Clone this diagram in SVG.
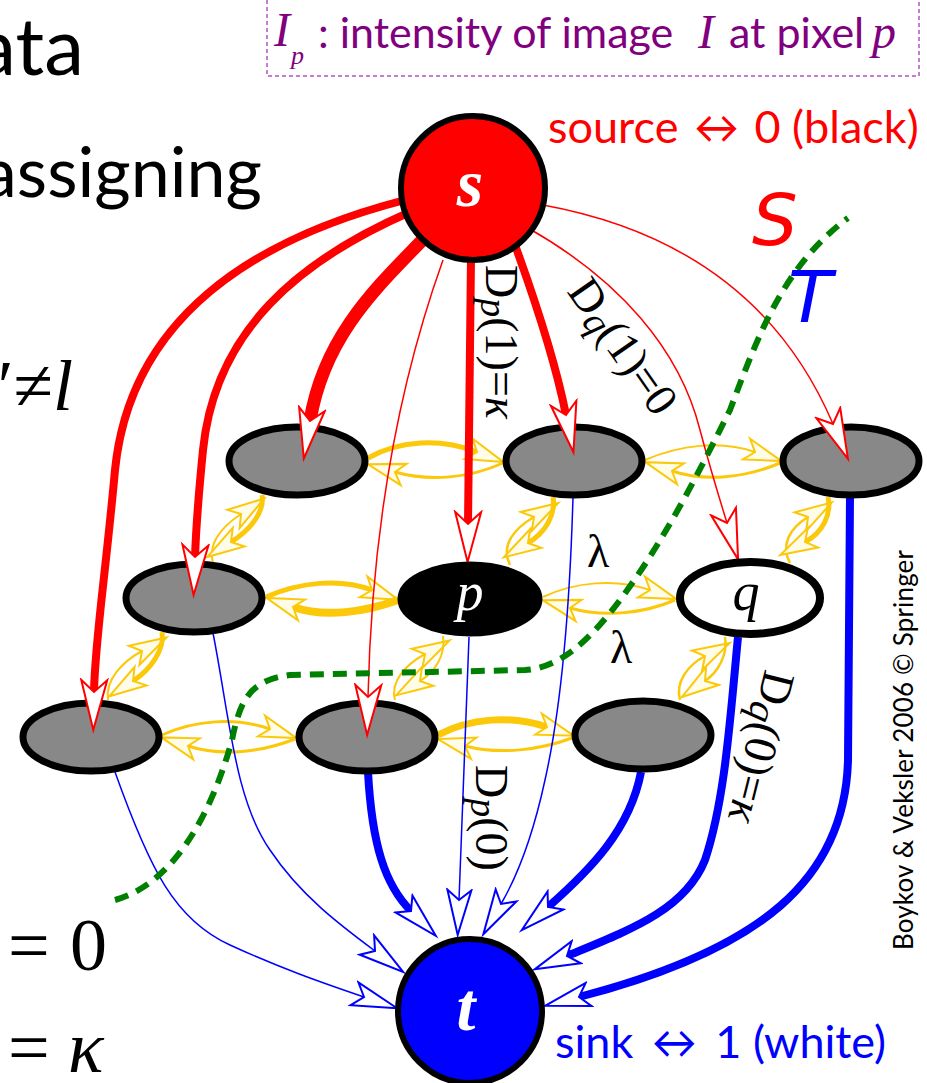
<svg xmlns="http://www.w3.org/2000/svg" width="927" height="1083" viewBox="0 0 927 1083">
<defs>
<style>
.sl{font-family:Lato,"Open Sans","Liberation Sans",sans-serif}
.mt{font-family:"Liberation Serif","Times New Roman",serif}
.gn{fill:#888;stroke:#000;stroke-width:7}
.yl{fill:none;stroke:#fcc80a;marker-end:url(#ay)}
.rd{fill:none;stroke:#f00;marker-end:url(#ar)}
.bl{fill:none;stroke:#00f;marker-end:url(#ab)}
.lb{font-family:"Liberation Serif","Times New Roman",serif;font-size:46px;fill:#000}
</style>
<marker id="ar" markerUnits="userSpaceOnUse" viewBox="-14 -16 56 32" markerWidth="56" markerHeight="32" refX="0" refY="0" orient="auto"><path d="M38,0 L-12,-13 L0,0 L-12,13 Z" fill="#fff" stroke="#f00" stroke-width="2"/></marker>
<marker id="ab" markerUnits="userSpaceOnUse" viewBox="-12 -15 52 30" markerWidth="52" markerHeight="30" refX="0" refY="0" orient="auto"><path d="M35,0 L-10,-12 L0,0 L-10,12 Z" fill="#fff" stroke="#00f" stroke-width="2"/></marker>
<marker id="ay" markerUnits="userSpaceOnUse" viewBox="-12 -13 44 26" markerWidth="44" markerHeight="26" refX="0" refY="0" orient="auto"><path d="M28,0 L-9,-11 L0,0 L-9,11 Z" fill="#fffce8" stroke="#fcc80a" stroke-width="2"/></marker>
</defs>
<rect x="0" y="0" width="927" height="1083" fill="#fff"/>

<g id="left-text" fill="#000">
<text class="sl" x="84" y="75" font-size="80" text-anchor="end">ata</text>
<text class="sl" x="262" y="197" font-size="70" text-anchor="end">assigning</text>
<text class="mt" x="73" y="410" font-size="72" text-anchor="end">′≠<tspan font-style="italic">l</tspan></text>
<text class="mt" x="8" y="970" font-size="74">=</text>
<text class="mt" x="70" y="970" font-size="74">0</text>
<text class="mt" x="8" y="1072" font-size="74">=</text>
<text class="mt" x="68" y="1072" font-size="74" font-style="italic">κ</text>
</g>

<g id="legend">
<rect x="267" y="-4" width="652" height="80" fill="none" stroke="#b452c8" stroke-width="1.5" stroke-dasharray="4 3"/>
<text fill="#800080" font-size="43" class="sl" y="48"><tspan class="mt" font-style="italic" font-size="48" x="274" y="46">I</tspan><tspan class="mt" font-style="italic" font-size="26" x="291" y="64">p</tspan><tspan x="318" y="48">: intensity of image</tspan><tspan class="mt" font-style="italic" font-size="48" x="698">I</tspan><tspan x="729">at pixel</tspan><tspan class="mt" font-style="italic" font-size="48" x="872">p</tspan></text>
</g>

<g id="connectors">
<g id="n-links">
<path class="yl" stroke-width="5" d="M368,458 C400,440 440,438 477,452"/>
<path class="yl" stroke-width="3" d="M503,463 C470,478 430,482 395,472"/>
<path class="yl" stroke-width="2" d="M645,460 C680,445 720,440 755,452"/>
<path class="yl" stroke-width="3" d="M780,463 C745,478 705,482 672,471"/>
<path class="yl" stroke-width="5" d="M266,597 C300,582 340,578 372,590"/>
<path class="yl" stroke-width="8" d="M398,600 C365,612 325,618 293,607"/>
<path class="yl" stroke-width="2" d="M543,597 C575,582 615,578 650,590"/>
<path class="yl" stroke-width="3" d="M675,600 C645,613 605,618 570,608"/>
<path class="yl" stroke-width="3" d="M162,735 C195,720 235,717 270,729"/>
<path class="yl" stroke-width="3" d="M295,739 C262,752 222,757 188,746"/>
<path class="yl" stroke-width="7" d="M438,735 C470,718 510,715 547,727"/>
<path class="yl" stroke-width="3" d="M572,738 C540,750 500,755 465,746"/>
<path class="yl" stroke-width="2" d="M213,563 C208,545 220,528 241,514"/>
<path class="yl" stroke-width="5" d="M262,495 C265,512 250,530 231,542"/>
<path class="yl" stroke-width="2" d="M108,700 C105,680 122,662 142,651"/>
<path class="yl" stroke-width="5" d="M162,632 C165,650 150,670 133,681"/>
<path class="yl" stroke-width="2.5" d="M510,565 C500,545 515,528 534,517"/>
<path class="yl" stroke-width="5" d="M553,497 C556,515 545,533 528,543"/>
<path class="yl" stroke-width="2" d="M395,700 C390,682 405,665 425,654"/>
<path class="yl" stroke-width="2" d="M443,636 C446,655 435,672 420,681"/>
<path class="yl" stroke-width="2.5" d="M790,563 C780,545 790,528 808,517"/>
<path class="yl" stroke-width="5" d="M828,497 C832,515 822,533 805,542"/>
<path class="yl" stroke-width="2.5" d="M680,700 C675,682 688,665 705,656"/>
<path class="yl" stroke-width="2.5" d="M725,637 C728,655 718,672 705,681"/>
</g>
<g id="t-links-sink">
<path class="bl" stroke-width="1.5" d="M115,772 C150,870 175,920 230,945 C280,968 320,982 364,997"/>
<path class="bl" stroke-width="1.5" d="M213,633 C230,720 235,800 270,850 C300,895 340,925 375,951"/>
<path class="bl" stroke-width="8" d="M368,772 C372,845 385,885 411,911"/>
<path class="bl" stroke-width="1.5" d="M469,637 L459,900"/>
<path class="bl" stroke-width="1.5" d="M573,497 C570,600 563,700 545,780 C532,840 515,880 501,904"/>
<path class="bl" stroke-width="8" d="M641,772 C630,830 590,870 548,907"/>
<path class="bl" stroke-width="8" d="M738,637 C730,720 725,800 705,860 C685,910 630,930 567,956"/>
<path class="bl" stroke-width="8" d="M850,497 L848,760 C845,880 760,950 579,997"/>
</g>
</g>

<g id="node-a1"><ellipse class="gn" cx="297" cy="461" rx="68" ry="34"/></g>
<g id="node-a2"><ellipse class="gn" cx="574" cy="461" rx="68" ry="34"/></g>
<g id="node-a3"><ellipse class="gn" cx="851" cy="461" rx="68" ry="34"/></g>
<g id="node-b1"><ellipse class="gn" cx="194" cy="598" rx="68" ry="34"/></g>
<g id="node-c1"><ellipse class="gn" cx="91" cy="737" rx="68" ry="34"/></g>
<g id="node-c2"><ellipse class="gn" cx="367" cy="737" rx="68" ry="34"/></g>
<g id="node-c3"><ellipse class="gn" cx="643" cy="735" rx="68" ry="34"/></g>

<g id="connectors-source">
<path class="rd" stroke-width="8" d="M405,200 C250,240 130,320 115,470 C105,580 95,640 94,692"/>
<path class="rd" stroke-width="8" d="M410,212 C300,260 215,330 203,450 C198,500 196,530 195,557"/>
<path class="rd" stroke-width="13" d="M432,230 C385,280 325,330 310,421"/>
<path class="rd" stroke-width="8" d="M471,258 L468,524"/>
<path class="rd" stroke-width="8" d="M515,245 C535,300 555,360 566,415"/>
<path class="rd" stroke-width="1.5" d="M528,228 C620,280 680,350 700,430 C712,475 720,500 727,523"/>
<path class="rd" stroke-width="1.5" d="M543,205 C680,230 780,300 833,424"/>
<path class="rd" stroke-width="1.5" d="M443,260 C400,380 372,520 368,697"/>
</g>

<g id="node-p"><ellipse cx="470" cy="599" rx="70" ry="35" fill="#000" stroke="#000" stroke-width="5"/><text class="mt" x="470" y="610" font-size="54" font-style="italic" fill="#fff" text-anchor="middle">p</text></g>
<g id="node-q"><ellipse cx="750" cy="598" rx="70" ry="36" fill="#fff" stroke="#000" stroke-width="8"/><text class="mt" x="746" y="610" font-size="54" font-style="italic" fill="#000" text-anchor="middle">q</text></g>
<g id="node-s"><circle cx="473" cy="188" r="72" fill="#f00" stroke="#000" stroke-width="6"/><text class="mt" x="470" y="206" font-size="68" font-weight="bold" font-style="italic" fill="#fff" text-anchor="middle">s</text></g>
<g id="node-t"><circle cx="470" cy="1011" r="72" fill="#00f" stroke="#000" stroke-width="6"/><text class="mt" x="466" y="1030" font-size="68" font-weight="bold" font-style="italic" fill="#fff" text-anchor="middle">t</text></g>

<g id="cut">
<path d="M115,900 C170,885 210,820 232,740 C240,700 250,680 290,675 L525,670 C560,668 590,640 620,600 C665,540 700,470 730,410 C760,330 785,265 848,218" fill="none" stroke="#008000" stroke-width="6" stroke-dasharray="14 9"/>
</g>

<g id="labels">
<text class="lb" transform="translate(500,342) rotate(90)" text-anchor="middle" y="14">D<tspan font-style="italic" font-size="38" dy="5">p</tspan><tspan dy="-5">(1)=</tspan><tspan font-style="italic">κ</tspan></text>
<text class="lb" transform="translate(622,347) rotate(55)" text-anchor="middle" y="14">D<tspan font-style="italic" font-size="38" dy="5">q</tspan><tspan dy="-5">(1)=0</tspan></text>
<text class="lb" transform="translate(490,818) rotate(90)" text-anchor="middle" y="14">D<tspan font-style="italic" font-size="38" dy="5">p</tspan><tspan dy="-5">(0)</tspan></text>
<text class="lb" transform="translate(760,747) rotate(104)" text-anchor="middle" y="14" font-size="48">D<tspan font-style="italic" font-size="40" dy="5">q</tspan><tspan dy="-5">(0)=</tspan><tspan font-style="italic">κ</tspan></text>
<text class="lb" x="587" y="567">λ</text>
<text class="lb" x="610" y="663">λ</text>
<text class="sl" x="548" y="143" font-size="45" fill="#f00">source <tspan dx="4">↔</tspan><tspan dx="4"> 0 (black)</tspan></text>
<text class="sl" x="555" y="1058" font-size="45" fill="#00f">sink <tspan dx="7">↔</tspan><tspan dx="7"> 1 (white)</tspan></text>
<text x="752" y="245" font-family="'DejaVu Sans',sans-serif" font-style="oblique" font-size="72" fill="#f00">S</text>
<text x="788" y="322" font-family="'DejaVu Sans',sans-serif" font-style="oblique" font-size="72" fill="#00f">T</text>
<text class="sl" transform="translate(913,950) rotate(-90)" font-size="26" fill="#000" textLength="400" lengthAdjust="spacing">Boykov &amp; Veksler 2006 © Springer</text>
</g>
</svg>
